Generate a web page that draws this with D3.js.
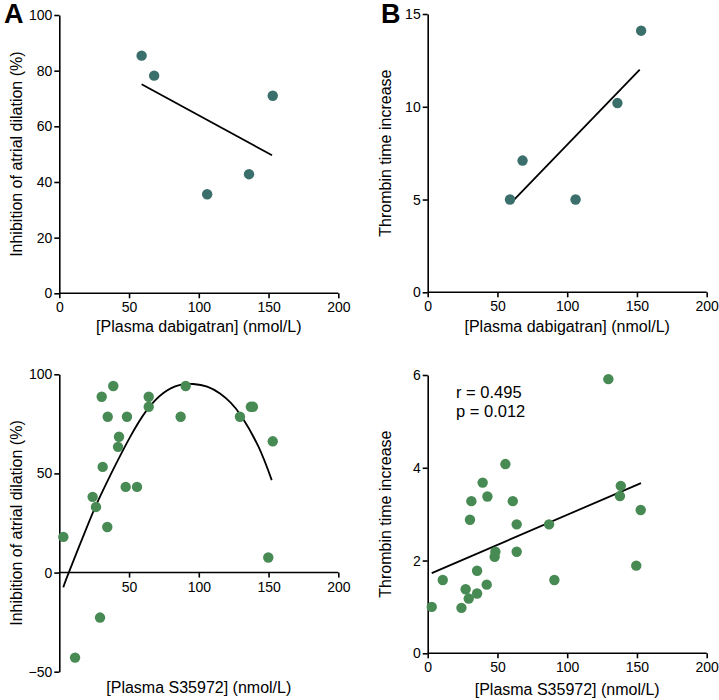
<!DOCTYPE html>
<meta charset="utf-8">
<script src="https://d3js.org/d3.v7.min.js"></script>
<style>
  body { margin: 0; background: #fff; }
  text { font-family: "Liberation Sans", Arial, sans-serif; fill: #000; }
  .axis path, .axis line { stroke: #000; stroke-width: 1.6px; }
  .axis text { font-size: 14px; font-family: "Liberation Sans", Arial, sans-serif; }
</style>
<div id="my_dataviz"></div>
<script>

// ---- data ----
// panel A: dabigatran vs inhibition of atrial dilation
var aX = [59, 68, 106, 136, 153];
var aY = [85.4, 78.2, 35.6, 42.8, 71.0];
var aFitX = [59, 152.5];
var aFitY = [75.1, 49.6];

// panel B: dabigatran vs thrombin time increase
var bX = [59, 68, 106, 136, 153];
var bY = [5.0, 7.1, 5.0, 10.2, 14.1];
var bFitX = [62, 152];
var bFitY = [5.0, 12.0];

// panel C: S35972 vs inhibition of atrial dilation
var cX = [2.9, 11.3, 23.9, 26.3, 29.2, 30.4, 31.1, 34.4, 34.7, 38.7, 42.1, 42.8,
          47.6, 48.5, 55.7, 64.1, 64.1, 87.0, 90.6, 129.5, 137.3, 138.8, 149.8, 153.0];
var cY = [18.0, -42.9, 38.2, 33.1, -22.7, 88.7, 53.3, 23.0, 78.6, 94.1, 63.4, 68.5,
          43.2, 78.6, 43.2, 88.7, 83.6, 78.6, 94.1, 78.6, 83.6, 83.6, 7.6, 66.2];
// fitted curve
var cCurveX = [2.9, 6.5, 20.8, 28, 37.6, 50.7, 62.6, 74.6, 86, 96, 106, 115.2, 123, 130.8, 142.7, 152.3];
var cCurveY = [-7.5, -0.5, 24.7, 36.5, 50.5, 68.3, 81.8, 90.6, 94.6, 95.1, 93.8, 90.3, 85.6, 78.6, 63.6, 46.6];

// panel D: S35972 vs thrombin time increase
var dX = [2.9, 10.8, 24.2, 27.2, 29.4, 30.3, 31.3, 35.4, 35.4, 39.4, 42.3, 42.8, 48.0,
          48.5, 55.7, 61.0, 63.8, 63.8, 87.0, 90.8, 129.5, 137.8, 138.4, 149.5, 152.7];
var dY = [1.0, 1.58, 0.98, 1.38, 1.18, 2.88, 3.28, 1.29, 1.78, 3.68, 1.48, 3.38, 2.08,
          2.19, 4.08, 3.28, 2.78, 2.19, 2.78, 1.58, 5.91, 3.39, 3.61, 1.89, 3.09];
var dFitX = [2.9, 152.9];
var dFitY = [1.73, 3.67];

var xTicks = [0, 50, 100, 150, 200];
var xTicksC = [50, 100, 150, 200];
var yTicksA = [0, 20, 40, 60, 80, 100];
var yTicksB = [0, 5, 10, 15];
var yTicksC = [-50, 0, 50, 100];
var yTicksD = [0, 2, 4, 6];

var topColor = "#3b6f6b";
var botColor = "#488a53";

var svg = d3.select("#my_dataviz")
  .append("svg")
    .attr("width", 719)
    .attr("height", 700);

function zip(xs, ys) {
  return xs.map(function(v, i) { return [v, ys[i]]; });
}

var fmt = d3.format("~g");

// draws one panel
function panel(opt) {
  var x = d3.scaleLinear().domain([0, 200]).range(opt.xr);
  var y = d3.scaleLinear().domain(opt.yd).range(opt.yr);

  // y axis
  svg.append("g")
    .attr("class", "axis")
    .attr("transform", "translate(" + opt.xr[0] + ",0)")
    .call(d3.axisLeft(y).tickValues(opt.yTicks).tickFormat(fmt).tickSize(5).tickSizeOuter(0).tickPadding(2));

  // x axis
  var xg = svg.append("g")
    .attr("class", "axis")
    .attr("transform", "translate(0," + y(opt.xAt) + ")")
    .call(d3.axisBottom(x).tickValues(opt.xTicks).tickFormat(fmt).tickSize(5).tickSizeOuter(0).tickPadding(4));
  xg.select(".domain").attr("d", "M" + opt.xr[0] + ",0H" + x(200));

  // fit line / curve
  var line = d3.line()
    .x(function(d) { return x(d[0]); })
    .y(function(d) { return y(d[1]); });
  if (opt.curve) line.curve(d3.curveNatural);
  svg.append("path")
    .datum(zip(opt.fitX, opt.fitY))
    .attr("fill", "none")
    .attr("stroke", "#000")
    .attr("stroke-width", 1.8)
    .attr("d", line);

  // points
  svg.append("g")
    .selectAll("circle")
    .data(zip(opt.px, opt.py))
    .enter().append("circle")
      .attr("cx", function(d) { return x(d[0]); })
      .attr("cy", function(d) { return y(d[1]); })
      .attr("r", 5.2)
      .attr("fill", opt.color);

  // axis titles
  svg.append("text")
    .attr("x", (opt.xr[0] + x(200)) / 2)
    .attr("y", opt.xTitleY)
    .attr("text-anchor", "middle")
    .style("font-size", "16px")
    .text(opt.xTitle);

  svg.append("text")
    .attr("transform", "translate(" + opt.yTitleX + "," + (opt.yr[0] + opt.yr[1]) / 2 + ") rotate(-90)")
    .attr("text-anchor", "middle")
    .style("font-size", "16px")
    .text(opt.yTitle);
}

panel({
  xr: [59.3, 338.3], yd: [0, 100], yr: [293.3, 15], xAt: 0,
  xTicks: xTicks, yTicks: yTicksA,
  px: aX, py: aY, fitX: aFitX, fitY: aFitY, color: topColor,
  xTitle: "[Plasma dabigatran] (nmol/L)", xTitleY: 332,
  yTitle: "Inhibition of atrial dilation (%)", yTitleX: 22
});

panel({
  xr: [427.7, 706.7], yd: [0, 15], yr: [292.3, 14], xAt: 0,
  xTicks: xTicks, yTicks: yTicksB,
  px: bX, py: bY, fitX: bFitX, fitY: bFitY, color: topColor,
  xTitle: "[Plasma dabigatran] (nmol/L)", xTitleY: 332,
  yTitle: "Thrombin time increase", yTitleX: 391
});

panel({
  xr: [59.3, 338.3], yd: [-50, 100], yr: [671.7, 374.3], xAt: 0,
  xTicks: xTicksC, yTicks: yTicksC,
  px: cX, py: cY, fitX: cCurveX, fitY: cCurveY, color: botColor, curve: true,
  xTitle: "[Plasma S35972] (nmol/L)", xTitleY: 693,
  yTitle: "Inhibition of atrial dilation (%)", yTitleX: 22
});

panel({
  xr: [427.7, 706.7], yd: [0, 6], yr: [653.3, 375], xAt: 0,
  xTicks: xTicks, yTicks: yTicksD,
  px: dX, py: dY, fitX: dFitX, fitY: dFitY, color: botColor,
  xTitle: "[Plasma S35972] (nmol/L)", xTitleY: 695,
  yTitle: "Thrombin time increase", yTitleX: 391
});

// annotations
svg.append("text").attr("x", 456).attr("y", 398).style("font-size", "16.5px").text("r = 0.495");
svg.append("text").attr("x", 456).attr("y", 417).style("font-size", "16.5px").text("p = 0.012");

// panel letters
svg.append("text").attr("x", 4).attr("y", 23).style("font-size", "27px").style("font-weight", "bold").text("A");
svg.append("text").attr("x", 381).attr("y", 23).style("font-size", "27px").style("font-weight", "bold").text("B");

</script>
